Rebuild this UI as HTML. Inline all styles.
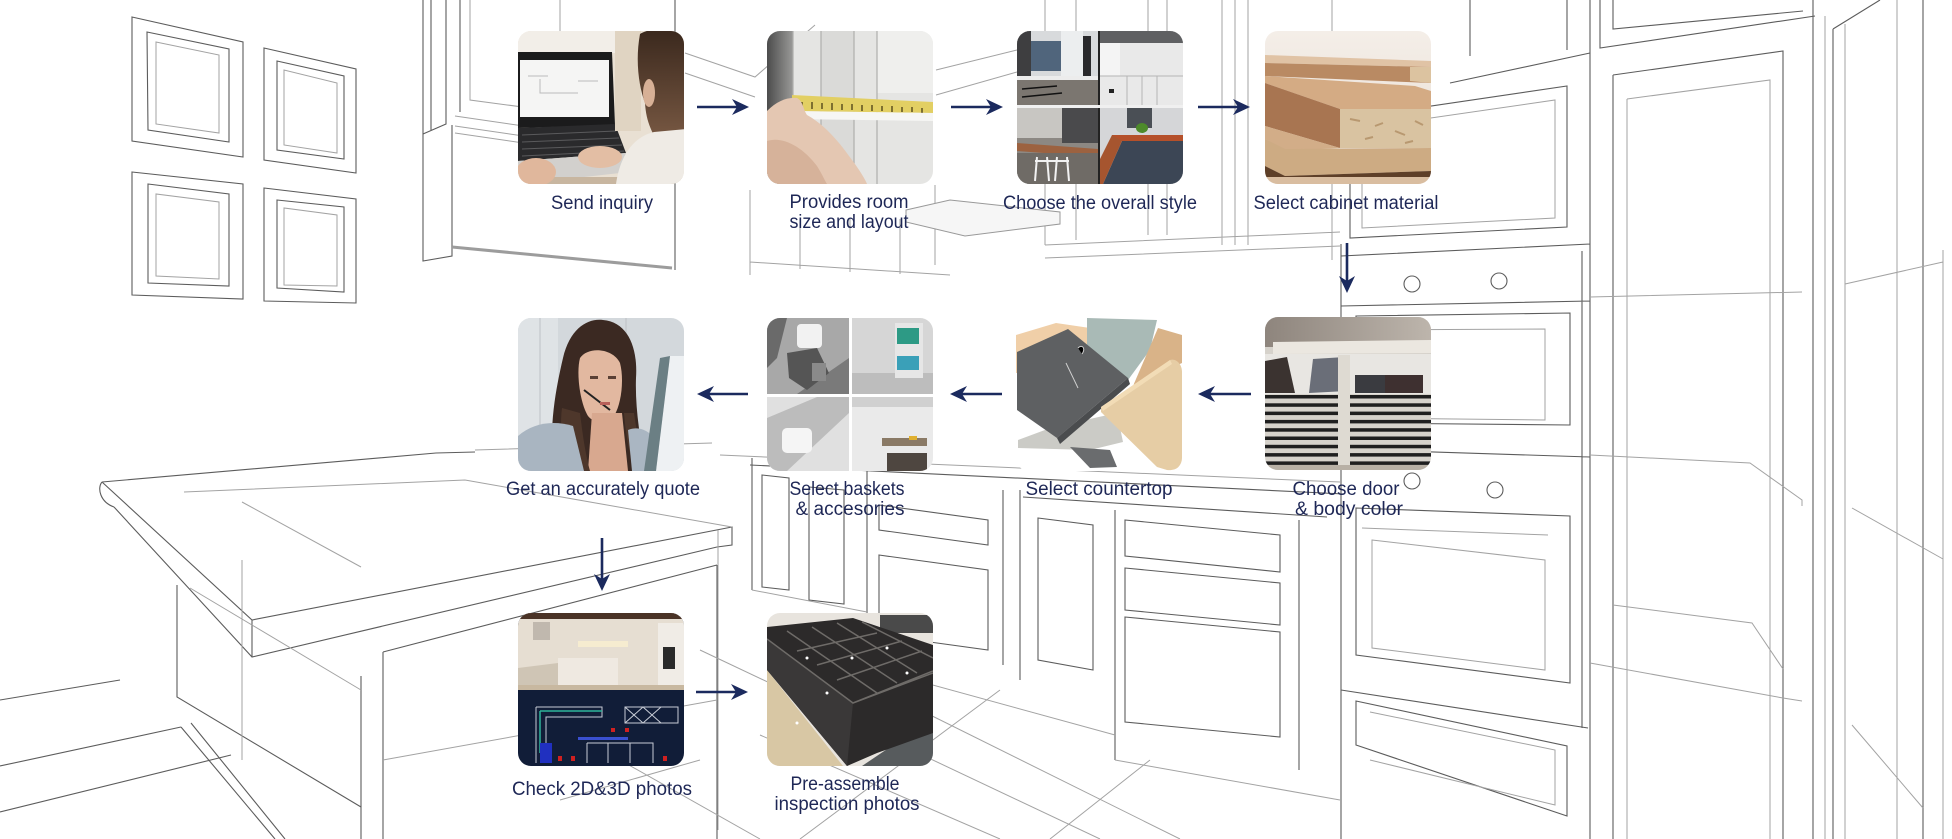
<!DOCTYPE html>
<html><head><meta charset="utf-8"><style>
html,body{margin:0;padding:0;background:#fff;}
svg{display:block;}
text{font-family:"Liberation Sans",Arial,sans-serif;font-size:19px;fill:#1e2756;text-anchor:middle;}
</style></head><body>
<svg width="1952" height="839" viewBox="0 0 1952 839" xmlns="http://www.w3.org/2000/svg">
<defs>
<clipPath id="c"><rect x="0" y="0" width="166" height="153" rx="13" ry="13"/></clipPath>
<linearGradient id="hair1" x1="0" y1="0" x2="0" y2="1"><stop offset="0" stop-color="#3a281d"/><stop offset="1" stop-color="#7a5a44"/></linearGradient>
<linearGradient id="gdark" x1="0" y1="0" x2="1" y2="0"><stop offset="0" stop-color="#4c4c4c"/><stop offset="1" stop-color="#9a9a98"/></linearGradient>
<linearGradient id="doortop" x1="0" y1="0" x2="1" y2="0"><stop offset="0" stop-color="#8e857d"/><stop offset="1" stop-color="#bdb5ac"/></linearGradient>
<linearGradient id="wood" x1="0" y1="0" x2="0" y2="1"><stop offset="0" stop-color="#f4eee8"/><stop offset="1" stop-color="#e8ddd2"/></linearGradient>
</defs>
<rect width="1952" height="839" fill="#fff"/>

<!-- background sketch: dark lines -->
<g fill="none" stroke="#5c5c5c" stroke-width="1.1">
<path d="M132,17 L243,42 L243,157 L132,141 Z M147,32 L229,49 L229,142 L148,130 Z M264,48 L356,69 L356,173 L264,160 Z M277,61 L344,76 L344,159 L277,150 Z M132,172 L243,184 L243,299 L132,295 Z M148,184 L229,194 L229,286 L148,283 Z M264,188 L356,199 L356,303 L264,301 Z M277,200 L344,207 L344,292 L277,288 Z"/>
<path d="M423,0 L423,261 L452,256 L452,125 M431,0 L431,130 M446,0 L446,124 L423,134 M460,0 L460,112 M675,0 L675,270"/>
<path d="M102,482 C97,488 100,502 114,507 M102,482 L436,453 L475,452 M102,482 L252,620 L732,527 L732,545 L717,547 M114,507 L252,657 L717,547 M252,620 L252,657"/>
<path d="M177,585 L177,697 L361,807 M361,676 L361,839 M383,652 L383,839 M717,565 L717,839 M383,652 L717,565"/>
<path d="M0,766 L181,727 M0,812 L231,755 M181,727 L275,839 M191,723 L285,839 M0,700 L120,680"/>
<path d="M1341,244 L1341,839 M1341,256 L1590,244 M1341,306 L1590,301 M1356,316 L1570,313 L1570,425 L1356,423 Z M1341,449 L1590,457 M1356,508 L1570,516 L1570,683 L1356,655 Z M1356,701 L1567,746 L1567,816 L1356,745 Z M1341,690 L1588,728 M1582,251 L1582,728 M1590,0 L1590,839"/>
<path d="M1350,118 L1567,86 L1567,227 L1350,238 Z M1450,83 L1590,53 M1470,0 L1470,56 M1567,0 L1567,50 M1600,0 L1600,48 L1815,16 M1613,0 L1613,29 L1803,11"/>
<path d="M1613,75 L1783,51 L1783,839 M1613,75 L1613,839 M1813,0 L1813,839 M1833,29 L1833,839 M1923,0 L1923,839 M1833,29 L1880,0"/>
<path d="M867,470 L867,667 M1003,490 L1003,665 M879,505 L988,520 L988,545 L879,530 Z M879,555 L988,570 L988,650 L879,635 Z M1020,490 L1020,680 M1038,518 L1093,525 L1093,670 L1038,660 Z M1115,510 L1115,760 M1299,520 L1299,770 M1125,520 L1280,535 L1280,572 L1125,556 Z M1125,568 L1280,583 L1280,625 L1125,610 Z M1125,617 L1280,632 L1280,737 L1125,722 Z M1023,497 L1327,517 M752,458 L752,590 M762,475 L789,478 L789,590 L762,587 Z M809,487 L844,490 L844,604 L809,600 Z M750,465 L1344,494"/>
<circle cx="1412" cy="284" r="8"/><circle cx="1499" cy="281" r="8"/><circle cx="1412" cy="481" r="8"/><circle cx="1495" cy="490" r="8"/>
</g>
<!-- background sketch: light lines -->
<g fill="none" stroke="#a3a3a3" stroke-width="1">
<path d="M156,124 L156,42 L219,55 L219,133 Z M284,145 L284,70 L337,83 L337,153 Z M156,276 L156,194 L219,202 L219,279 Z M284,285 L284,208 L337,215 L337,286 Z"/>
<path d="M455,116 L675,148 M455,126 L675,158 M455,133 L675,165 M470,0 L470,100 L560,112 L560,0 M685,53 L755,77 L815,25 M685,73 L755,97 M936,70 L1017,50 M936,95 L1017,72"/>
<path d="M1045,0 L1045,245 M1076,0 L1076,240 M1148,0 L1148,235 M1167,0 L1167,235 M1222,0 L1222,245 M1235,0 L1235,245 M1248,0 L1248,245 M1332,0 L1332,260 M1045,245 L1340,232 M1045,258 L1340,246"/>
<path d="M750,190 L750,275 M800,219 L800,269 M850,219 L850,272 M900,219 L900,274 M935,185 L935,265 M750,262 L950,275"/>
<path d="M465,480 L732,527 M184,492 L465,480 M242,502 L361,567 M242,560 L242,760 M190,588 L361,690 M383,760 L717,700"/>
<path d="M475,450 L712,443 M720,455 L1340,482 M867,667 L1115,735 M1115,760 L1340,800 M752,590 L867,612"/>
<path d="M700,650 L1100,839 M900,700 L1180,839 M1000,690 L800,839 M1150,760 L1050,839 M620,760 L760,839 M760,735 L1000,839 M718,530 L718,830 M560,800 L700,760"/>
<path d="M1360,330 L1545,329 L1545,420 L1360,418 Z M1362,528 L1548,535 M1372,540 L1545,560 L1545,670 L1372,648 Z M1362,128 L1555,100 L1555,218 L1362,228 Z M1370,712 L1555,750 L1555,805 L1370,760"/>
<path d="M1627,99 L1770,80 L1770,839 M1627,99 L1627,839 M1590,297 L1802,292 M1590,455 L1750,463 L1802,500 L1802,506 M1613,605 L1752,623 L1783,669 M1590,663 L1783,698 L1802,701 M1825,16 L1825,839 M1845,24 L1845,839 M1897,0 L1897,839 M1943,250 L1943,839 M1845,284 L1943,262 M1852,508 L1943,559 M1852,725 L1923,808"/>
</g>
<path d="M452,247 L672,268" stroke="#9c9c9c" stroke-width="3" fill="none"/>
<path d="M906,210 L950,200 L1060,212 L1060,224 L965,236 L906,222 Z" fill="#f6f6f6" stroke="#999" stroke-width="1"/>

<!-- IMG 1: Send inquiry -->
<g transform="translate(518,31)"><g clip-path="url(#c)">
<rect width="166" height="153" fill="#e9e0d3"/>
<rect width="122" height="22" fill="#f2eee8"/>
<polygon points="0,21 94,21 97,94 0,97" fill="#1b1b1c"/>
<rect x="2" y="29" width="89" height="57" fill="#f5f5f4"/>
<path d="M10,45 L30,45 M22,48 L22,62 L60,62 M60,50 L80,50" stroke="#bbb" stroke-width="1" fill="none"/>
<polygon points="0,97 97,93 108,122 0,130" fill="#2a2a2c"/>
<path d="M4,104 L98,100 M4,111 L101,107 M4,118 L104,114 M4,125 L106,120" stroke="#5a5a5c" stroke-width="1"/>
<polygon points="0,130 108,122 120,140 30,150 0,148" fill="#d2d0cd"/>
<rect y="146" width="166" height="7" fill="#c8b6a0"/>
<ellipse cx="18" cy="141" rx="20" ry="14" fill="#e0b79c"/>
<ellipse cx="82" cy="126" rx="22" ry="11" fill="#e3bea4"/>
<rect x="97" y="0" width="26" height="100" fill="#e0d4c2"/>
<path d="M122,3 C132,-4 160,-3 168,3 L168,112 L140,112 C132,98 128,88 127,72 C121,56 117,30 122,3 Z" fill="url(#hair1)"/>
<ellipse cx="131" cy="62" rx="6" ry="14" fill="#d7b096"/>
<path d="M98,153 C102,125 115,106 136,101 L168,98 L168,153 Z" fill="#efebe5"/>
</g></g>

<!-- IMG 2: Provides room -->
<g transform="translate(767,31)"><g clip-path="url(#c)">
<rect width="166" height="153" fill="#e5e5e3"/>
<rect width="26" height="153" fill="url(#gdark)"/>
<rect x="54" width="33" height="153" fill="#dadad8"/>
<rect x="110" width="56" height="62" fill="#efefed"/>
<path d="M26,0 L26,153 M54,0 L54,153 M87,0 L87,153 M110,0 L110,153" stroke="#aeaeac" stroke-width="1.2"/>
<polygon points="25,64 166,71 166,82 25,80" fill="#e2cf63"/>
<path d="M35,71 L35,77 M45,71 L45,78 M55,72 L55,78 M65,72 L65,79 M75,73 L75,79 M85,73 L85,79 M95,74 L95,80 M105,74 L105,80 M115,75 L115,80 M125,75 L125,81 M135,76 L135,81 M145,76 L145,81 M155,77 L155,82" stroke="#5d5020" stroke-width="1.5"/>
<polygon points="25,80 166,82 166,90 25,88" fill="#f6f6f4"/>
<path d="M0,80 C10,70 20,66 30,67 C36,70 36,78 40,84 C55,92 70,108 82,125 C92,138 98,148 100,153 L0,153 Z" fill="#e4c7b2"/>
<path d="M0,110 C15,105 35,115 50,135 C55,143 58,150 60,153 L0,153 Z" fill="#d6b29a"/>
</g></g>

<!-- IMG 3: Choose the overall style -->
<g transform="translate(1017,31)"><g clip-path="url(#c)">
<rect width="166" height="153" fill="#888"/>
<rect width="81" height="74" fill="#8a8784"/>
<rect width="81" height="45" fill="#d8dadc"/>
<rect width="14" height="45" fill="#3e3e40"/>
<rect x="14" y="10" width="30" height="30" fill="#50657c"/>
<rect x="44" width="22" height="45" fill="#eceeef"/>
<rect x="66" y="5" width="8" height="40" fill="#2a2a2c"/>
<rect y="45" width="81" height="4" fill="#ececec"/>
<rect y="49" width="81" height="25" fill="#7b7670"/>
<path d="M5,58 L40,55 M5,66 L45,62" stroke="#111" stroke-width="1.6"/>
<rect x="83" width="83" height="74" fill="#e9e9e9"/>
<rect x="83" width="83" height="12" fill="#5f6062"/>
<rect x="83" y="12" width="20" height="33" fill="#f4f4f4"/>
<path d="M110,45 L110,74 M125,45 L125,74 M140,45 L140,74 M83,45 L166,45" stroke="#b5b5b5" stroke-width="1"/>
<rect x="92" y="58" width="5" height="4" fill="#222"/>
<rect y="77" width="81" height="76" fill="#8c8883"/>
<rect y="77" width="81" height="30" fill="#c8c6c2"/>
<rect x="45" y="77" width="36" height="35" fill="#4a4a4c"/>
<polygon points="0,112 81,118 81,126 0,120" fill="#9c6240"/>
<rect y="122" width="81" height="31" fill="#6f6b66"/>
<path d="M20,126 L18,150 M30,126 L32,150 M40,126 L38,150 M50,126 L52,150 M18,130 L52,130" stroke="#f2f2f2" stroke-width="2"/>
<rect x="83" y="77" width="83" height="76" fill="#d5d6d8"/>
<rect x="110" y="77" width="25" height="20" fill="#4a4f55"/>
<ellipse cx="125" cy="97" rx="6" ry="5" fill="#4d8a2a"/>
<polygon points="95,104 166,104 166,110 95,110" fill="#b5502a"/>
<polygon points="105,110 166,110 166,153 86,153" fill="#3c4655"/>
<polygon points="95,104 105,110 86,153 83,153 83,128" fill="#a6552f"/>
<rect x="81" width="2" height="153" fill="#222"/>
<rect y="74" width="166" height="3" fill="#f0f0f0"/>
</g></g>

<!-- IMG 4: Select cabinet material -->
<g transform="translate(1265,31)"><g clip-path="url(#c)">
<rect width="166" height="153" fill="url(#wood)"/>
<polygon points="0,24 166,30 166,36 0,32" fill="#e0c3a5"/>
<polygon points="0,32 166,36 166,52 0,45" fill="#b98a63"/>
<polygon points="145,36 166,36 166,52 145,50" fill="#dcc3a0"/>
<polygon points="0,45 150,55 166,60 166,78 75,78 0,52" fill="#d4ab84"/>
<polygon points="0,52 75,78 75,117 0,95" fill="#a87551"/>
<polygon points="75,78 166,78 166,117 75,117" fill="#d9c3a1"/>
<path d="M85,88 L95,90 M110,95 L118,92 M130,100 L140,104 M150,90 L158,94 M100,108 L108,106 M140,112 L148,110" stroke="#b89870" stroke-width="2"/>
<polygon points="0,95 75,117 20,120 0,108" fill="#d2ad88"/>
<polygon points="0,108 20,118 166,117 166,140 20,145 0,135" fill="#cdab83"/>
<polygon points="0,135 20,145 166,140 166,146 0,146" fill="#5e3f28"/>
<rect y="146" width="166" height="7" fill="#d9bda0"/>
</g></g>

<!-- IMG 5: Get an accurately quote -->
<g transform="translate(518,318)"><g clip-path="url(#c)">
<rect width="166" height="153" fill="#d3d8dc"/>
<rect width="40" height="153" fill="#dfe3e6"/>
<path d="M22,0 L22,153 M108,0 L108,110" stroke="#bcc1c5" stroke-width="1"/>
<path d="M36,153 C30,110 38,70 45,40 C52,10 70,0 85,2 C110,4 120,30 118,60 C117,90 122,120 128,153 Z" fill="#3b2922"/>
<path d="M62,40 C70,28 95,30 102,45 C106,60 104,85 96,98 C90,106 76,106 70,98 C62,85 58,55 62,40 Z" fill="#e2b8a0"/>
<path d="M74,95 L104,95 L110,153 L70,153 Z" fill="#d8a88f"/>
<path d="M44,90 C40,120 50,140 58,153 L72,153 C66,130 64,110 62,95 Z" fill="#4e372b"/>
<path d="M106,95 C108,120 112,140 118,153 L126,153 C122,130 118,110 116,95 Z" fill="#4e372b"/>
<path d="M0,118 C15,105 35,102 55,108 L66,153 L0,153 Z" fill="#a9b5c1"/>
<path d="M110,112 C120,108 130,112 136,120 L136,153 L114,153 Z" fill="#aab6c2"/>
<polygon points="152,38 166,38 166,153 138,153" fill="#eef1f3"/>
<polygon points="142,40 152,38 138,153 126,153" fill="#6b7f84"/>
<path d="M66,72 L92,92" stroke="#222" stroke-width="2"/>
<rect x="72" y="58" width="8" height="3" fill="#5a4035"/><rect x="90" y="58" width="8" height="3" fill="#5a4035"/>
<rect x="82" y="84" width="10" height="3" fill="#b8605a"/>
</g></g>

<!-- IMG 6: Select baskets -->
<g transform="translate(767,318)"><g clip-path="url(#c)">
<rect width="166" height="153" fill="#f4f4f4"/>
<rect width="82" height="76" fill="#a8a8a8"/>
<polygon points="0,0 20,0 10,40 0,50" fill="#6a6a6a"/>
<polygon points="30,76 82,40 82,76" fill="#7a7a7a"/>
<rect x="30" y="6" width="25" height="24" rx="4" fill="#f2f2f2"/>
<polygon points="20,35 50,30 62,55 40,72 22,60" fill="#555"/>
<rect x="45" y="45" width="14" height="18" fill="#8a8a8a"/>
<rect x="85" width="81" height="76" fill="#d6d6d6"/>
<rect x="85" y="55" width="81" height="21" fill="#bdbdbd"/>
<rect x="128" y="5" width="28" height="55" fill="#e6e6e6"/>
<rect x="130" y="10" width="22" height="16" fill="#2d9a85"/>
<rect x="130" y="38" width="22" height="14" fill="#3aa0b8"/>
<rect y="79" width="82" height="74" fill="#e0e0e0"/>
<polygon points="0,100 50,79 82,79 82,95 20,153 0,153" fill="#bcbcbc"/>
<rect x="15" y="110" width="30" height="25" rx="5" fill="#f5f5f5"/>
<rect x="85" y="79" width="81" height="74" fill="#eaeaea"/>
<rect x="85" y="79" width="81" height="10" fill="#d0d0d0"/>
<rect x="115" y="120" width="45" height="8" fill="#8a7a66"/>
<rect x="120" y="135" width="40" height="18" fill="#4e4640"/>
<rect x="142" y="118" width="8" height="4" fill="#e0b030"/>
<rect x="82" width="3" height="153" fill="#fff"/>
<rect y="76" width="166" height="3" fill="#fff"/>
</g></g>

<!-- IMG 7: Select countertop -->
<g transform="translate(1016,318)"><g clip-path="url(#c)">
<rect width="166" height="153" fill="#fff"/>
<polygon points="0,17 40,5 74,10 70,55 0,55" fill="#f0cfa8"/>
<polygon points="71,0 141,2 134,32 112,62 71,38" fill="#a9bab6"/>
<polygon points="142,10 166,17 166,45 117,68" fill="#d9b388"/>
<polygon points="2,122 37,109 101,95 107,124 74,132 2,130" fill="#cbcbc6"/>
<polygon points="54,129 94,132 101,149 74,150" fill="#6a6c6e"/>
<polygon points="1,34 52,11 112,60 41,120 1,92" fill="#5e6062"/>
<polygon points="41,120 112,60 114,66 44,126" fill="#4a4c4e"/>
<path d="M62,30 C66,26 70,30 66,36 M50,45 L62,70" stroke="#cfcfcf" stroke-width="1"/>
<path d="M85,89 L154,42 C160,40 166,46 166,54 L166,142 C166,148 160,153 151,152 L141,149 L85,94 Z" fill="#e6cda5"/>
<polygon points="85,89 154,42 156,46 87,93" fill="#f2dcb6"/>
</g></g>

<!-- IMG 8: Choose door & body color -->
<g transform="translate(1265,317)"><g clip-path="url(#c)">
<rect width="166" height="153" fill="#d6d2cb"/>
<rect width="166" height="30" fill="url(#doortop)"/>
<polygon points="8,25 166,23 166,36 8,37" fill="#ebe7e0"/>
<rect y="37" width="166" height="40" fill="#e8e6e2"/>
<polygon points="0,44 22,40 30,76 0,76" fill="#3b3330"/>
<polygon points="48,42 80,40 82,74 44,76" fill="#6a6e78"/>
<rect x="90" y="58" width="30" height="18" fill="#3a3b40"/>
<rect x="120" y="58" width="38" height="18" fill="#3e3030"/>
<g fill="#1f1f1f">
<rect y="78" width="166" height="3.5"/><rect y="86.3" width="166" height="3.5"/><rect y="94.6" width="166" height="3.5"/><rect y="102.9" width="166" height="3.5"/><rect y="111.2" width="166" height="3.5"/><rect y="119.5" width="166" height="3.5"/><rect y="127.8" width="166" height="3.5"/><rect y="136.1" width="166" height="3.5"/><rect y="144.4" width="166" height="3.5"/>
</g>
<rect x="73" y="38" width="12" height="115" fill="#dedad2"/>
<rect y="148" width="166" height="5" fill="#b8b0a5"/>
</g></g>

<!-- IMG 9: Check 2D&3D photos -->
<g transform="translate(518,613)"><g clip-path="url(#c)">
<rect width="166" height="153" fill="#111d38"/>
<rect width="166" height="77" fill="#e6ded2"/>
<rect width="166" height="6" fill="#4a3326"/>
<rect x="15" y="9" width="17" height="18" fill="#c0b8ae"/>
<rect x="60" y="28" width="50" height="6" fill="#f6ecd0"/>
<rect x="140" y="10" width="26" height="67" fill="#f0ece6"/>
<rect x="145" y="34" width="12" height="22" fill="#2a2a2a"/>
<rect x="40" y="45" width="60" height="28" fill="#efe9e1"/>
<polygon points="0,55 40,50 40,77 0,77" fill="#cfc5b5"/>
<rect y="72" width="166" height="5" fill="#c8b8a0"/>
<g fill="none" stroke="#c8ccd6" stroke-width="1">
<path d="M18,94 L84,94 L84,104 L28,104 L28,150 M18,94 L18,150 M107,94 L160,94 L160,110 L107,110 Z M107,94 L125,110 M125,94 L107,110 M125,94 L143,110 M143,94 L125,110 M69,130 L135,130 L135,150 M69,130 L69,150 M90,130 L90,150 M112,130 L112,150"/>
</g>
<path d="M22,98 L84,98 M22,98 L22,140" stroke="#2fb59a" stroke-width="1.5" fill="none"/>
<rect x="22" y="130" width="12" height="20" fill="#2030c0"/>
<rect x="60" y="124" width="50" height="3" fill="#3a50d0"/>
<g fill="#d02020"><rect x="93" y="115" width="4" height="4"/><rect x="107" y="115" width="4" height="4"/><rect x="40" y="143" width="4" height="5"/><rect x="53" y="143" width="4" height="5"/><rect x="145" y="143" width="4" height="5"/></g>
</g></g>

<!-- IMG 10: Pre-assemble -->
<g transform="translate(767,613)"><g clip-path="url(#c)">
<rect width="166" height="153" fill="#e8e4de"/>
<rect x="113" y="2" width="53" height="18" fill="#4a4a4a"/>
<polygon points="0,57 76,153 0,153" fill="#d8c7a4"/>
<polygon points="166,105 166,153 95,153" fill="#575b5d"/>
<polygon points="0,14 86,5 166,32 166,120 110,140 80,153 0,57" fill="#2c2a2a"/>
<polygon points="0,26 86,90 80,153 0,57" fill="#3a3838"/>
<g stroke="#6e6b68" stroke-width="1.5" fill="none">
<path d="M0,26 L86,90 L166,60 M20,18 L110,80 M45,14 L130,70 M70,10 L150,60 M95,9 L166,45 M30,38 L110,20 M50,52 L135,28 M70,67 L155,38 M86,90 L166,58"/>
</g>
<g fill="#fff"><circle cx="40" cy="45" r="1.5"/><circle cx="60" cy="80" r="1.5"/><circle cx="85" cy="45" r="1.5"/><circle cx="120" cy="35" r="1.5"/><circle cx="140" cy="60" r="1.5"/><circle cx="30" cy="110" r="1.5"/></g>
</g></g>

<!-- arrows -->
<g stroke="#1b2a5e" stroke-width="2.6" fill="none">
<path d="M697,107 L739,107 M951,107 L993,107 M1198,107 L1240,107 M748,394 L707,394 M1002,394 L960,394 M1251,394 L1208,394 M1347,243 L1347,283 M602,538 L602,581 M696,692 L738,692"/>
</g>
<g fill="#1b2a5e">
<path d="M749,107 L732,99 L737,107 L732,115 Z"/>
<path d="M1003,107 L986,99 L991,107 L986,115 Z"/>
<path d="M1250,107 L1233,99 L1238,107 L1233,115 Z"/>
<path d="M697,394 L714,386 L709,394 L714,402 Z"/>
<path d="M950,394 L967,386 L962,394 L967,402 Z"/>
<path d="M1198,394 L1215,386 L1210,394 L1215,402 Z"/>
<path d="M1347,293 L1339,276 L1347,281 L1355,276 Z"/>
<path d="M602,591 L594,574 L602,579 L610,574 Z"/>
<path d="M748,692 L731,684 L736,692 L731,700 Z"/>
</g>

<!-- labels -->
<text x="602" y="209" textLength="102" lengthAdjust="spacingAndGlyphs">Send inquiry</text>
<text x="849" y="208" textLength="119" lengthAdjust="spacingAndGlyphs">Provides room</text>
<text x="849" y="228" textLength="119" lengthAdjust="spacingAndGlyphs">size and layout</text>
<text x="1100" y="209" textLength="194" lengthAdjust="spacingAndGlyphs">Choose the overall style</text>
<text x="1346" y="209" textLength="185" lengthAdjust="spacingAndGlyphs">Select cabinet material</text>
<text x="603" y="495" textLength="194" lengthAdjust="spacingAndGlyphs">Get an accurately quote</text>
<text x="847" y="495" textLength="115" lengthAdjust="spacingAndGlyphs">Select baskets</text>
<text x="850" y="515" textLength="109" lengthAdjust="spacingAndGlyphs">&amp; accesories</text>
<text x="1099" y="495" textLength="147" lengthAdjust="spacingAndGlyphs">Select countertop</text>
<text x="1346" y="495" textLength="107" lengthAdjust="spacingAndGlyphs">Choose door</text>
<text x="1349" y="515" textLength="108" lengthAdjust="spacingAndGlyphs">&amp; body color</text>
<text x="602" y="795" textLength="180" lengthAdjust="spacingAndGlyphs">Check 2D&amp;3D photos</text>
<text x="845" y="790" textLength="109" lengthAdjust="spacingAndGlyphs">Pre-assemble</text>
<text x="847" y="810" textLength="145" lengthAdjust="spacingAndGlyphs">inspection photos</text>
</svg>
</body></html>
